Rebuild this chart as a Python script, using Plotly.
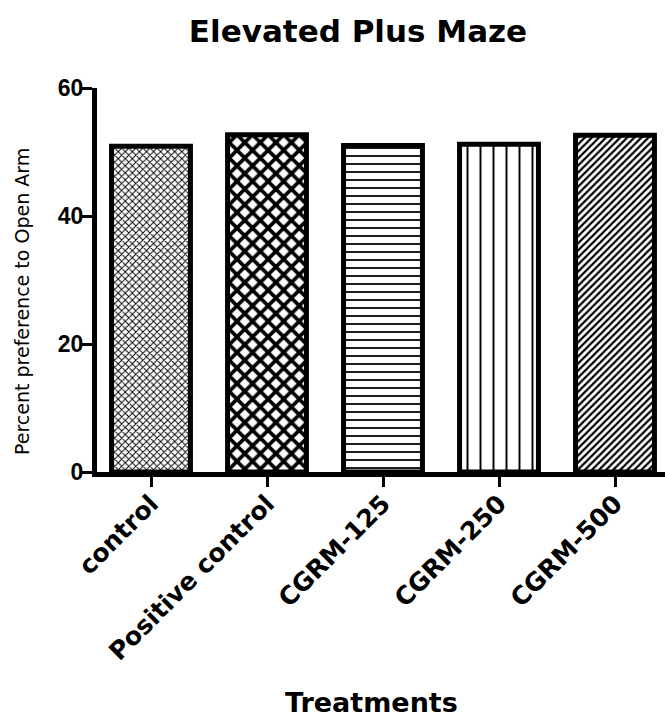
import plotly.graph_objects as go

categories = ["control", "Positive control", "CGRM-125", "CGRM-250", "CGRM-500"]
values = [50.9, 52.7, 51.0, 51.2, 52.6]
y_ticks = [0, 20, 40, 60]

patterns = ["x", "x", "-", "|", "/"]
pattern_sizes = [5, 11, 8, 13, 5]
pattern_solidity = [0.35, 0.55, 0.22, 0.15, 0.45]

BOLD = "DejaVu Sans, sans-serif"
ARIAL = "Liberation Sans, Arial, sans-serif"

fig = go.Figure()
fig.add_trace(go.Bar(
    x=categories,
    y=values,
    width=0.68,
    marker=dict(
        color="white",
        line=dict(color="black", width=5),
        pattern=dict(shape=patterns, size=pattern_sizes, solidity=pattern_solidity,
                     fgcolor="black", bgcolor="white", fillmode="replace"),
    ),
))

fig.update_layout(
    width=665, height=717,
    margin=dict(l=97, r=0, t=88, b=245, autoexpand=False),
    paper_bgcolor="white", plot_bgcolor="white",
    showlegend=False,
    title=dict(text="<b>Elevated Plus Maze</b>", x=358 / 665, xanchor="center",
               y=1 - 31 / 717, yanchor="middle",
               font=dict(family=BOLD, size=31, color="black")),
    font=dict(family=ARIAL, color="black"),
    annotations=[
        dict(text="<b>Treatments</b>", xref="paper", yref="paper", x=0.484, y=-0.599,
             xanchor="center", yanchor="middle", showarrow=False,
             font=dict(family=BOLD, size=27, color="black")),
        dict(text="Percent preference to Open Arm", xref="paper", yref="paper",
             x=-0.132, y=0.4427, xanchor="center", yanchor="middle", textangle=-90,
             showarrow=False, font=dict(family="DejaVu Sans, sans-serif", size=19, color="black")),
    ],
)
fig.update_xaxes(
    range=[-0.4655, 4.431],
    showline=True, linecolor="black", linewidth=5,
    ticks="outside", ticklen=10, tickwidth=3, tickcolor="black",
    tickangle=-45, ticklabelstandoff=-8,
    tickfont=dict(family=BOLD, size=25, color="black", weight="bold"),
    showgrid=False, zeroline=False, automargin=False,
)
fig.update_yaxes(
    range=[0, 60],
    tickvals=y_ticks,
    showline=True, linecolor="black", linewidth=5,
    ticks="outside", ticklen=10, tickwidth=3, tickcolor="black",
    ticklabelstandoff=-6,
    tickfont=dict(family=ARIAL, size=23, color="black", weight="bold"),
    showgrid=False, zeroline=False, automargin=False,
)

fig.write_html("out.html", config={"displayModeBar": False},
               post_script="document.body.style.margin='0';document.body.style.padding='0';")
